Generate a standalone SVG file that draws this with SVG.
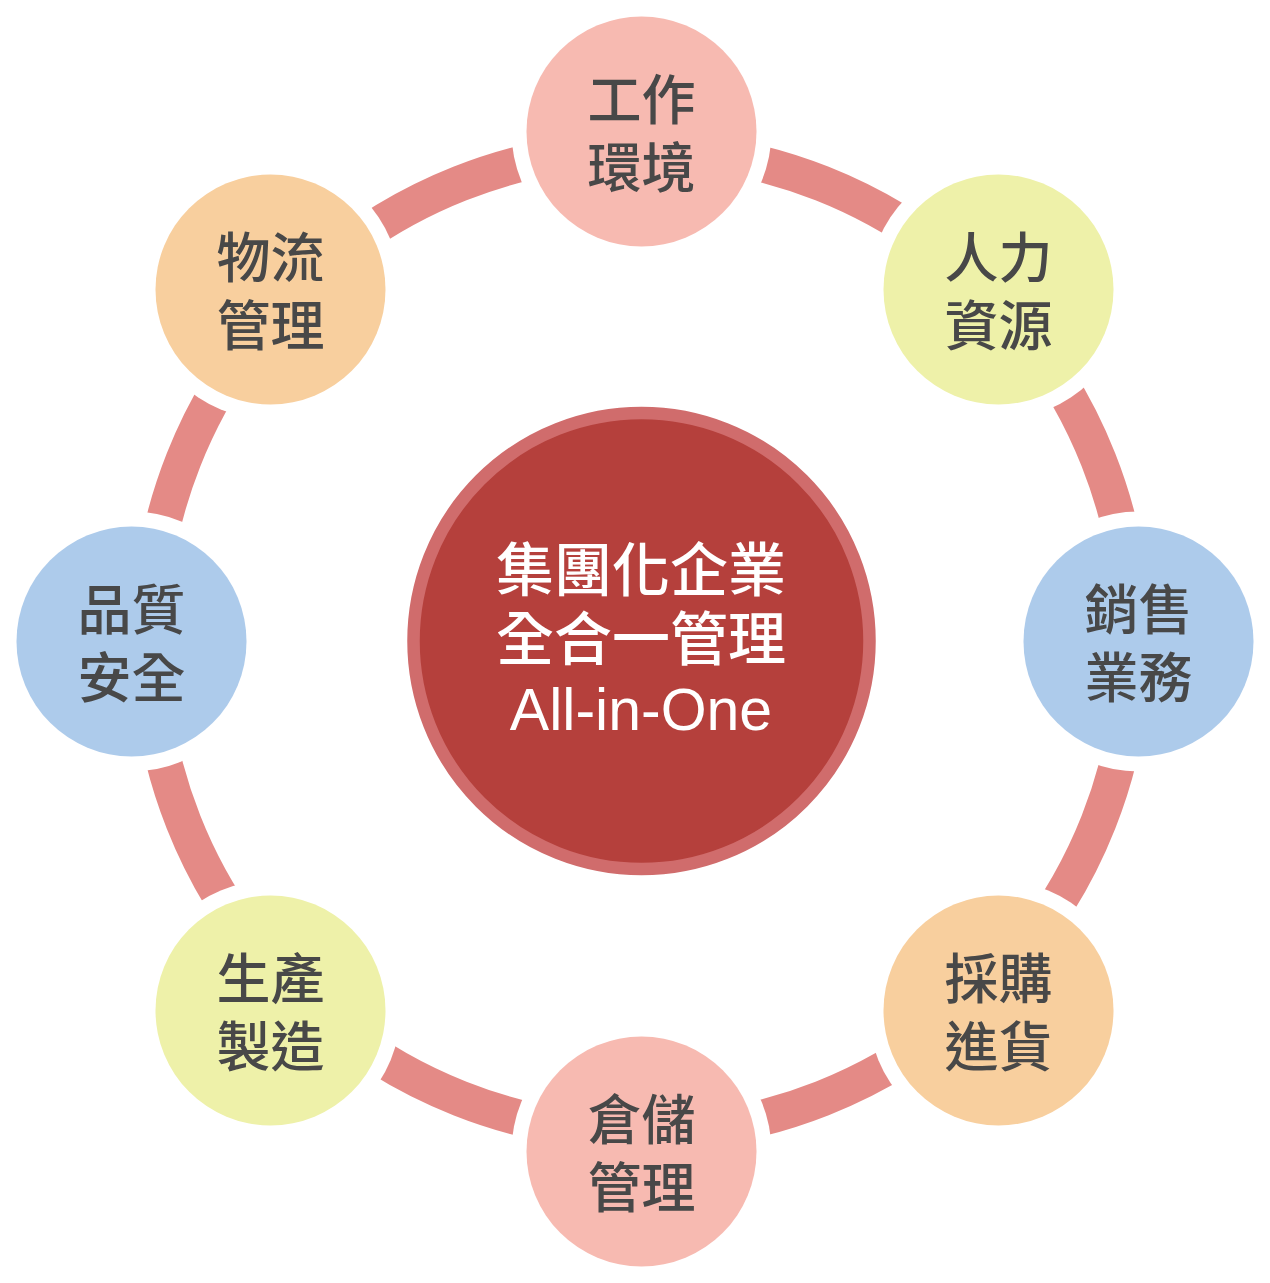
<svg xmlns="http://www.w3.org/2000/svg" width="1270" height="1283" viewBox="0 0 1270 1283">
<style>
.ring{fill:none;stroke:#E48A86;stroke-width:36}
.gap{fill:#FFFFFF}
.pink{fill:#F7BAB1}.yellow{fill:#EEF1A9}.blue{fill:#ADCBEB}.orange{fill:#F8CF9E}
.lbl{font-family:"Noto Sans CJK TC","Noto Sans CJK SC",sans-serif;font-weight:500;font-size:54px;fill:#484848;text-anchor:middle}
.ctr{font-family:"Noto Sans CJK TC","Noto Sans CJK SC",sans-serif;font-weight:500;font-size:58px;fill:#FFFFFF;text-anchor:middle}
.en{font-family:"Liberation Sans",Arial,sans-serif;font-size:59px;fill:#FFFFFF;text-anchor:middle}
</style>
<defs>
<circle id="gapc" r="130" class="gap"/>
</defs>
<rect width="1270" height="1283" fill="#FFFFFF"/>
<g id="connectors">
<circle class="ring" cx="641" cy="641" r="492"/>
</g>
<g id="center">
<circle cx="641.5" cy="641" r="228" fill="#B5403C" stroke="#D06C6C" stroke-width="12.5"/>
<text class="ctr" x="641" y="591">集團化企業</text>
<text class="ctr" x="641" y="660">全合一管理</text>
<text class="en" x="641" y="730">All-in-One</text>
</g>
<g id="node-work">
<use href="#gapc" x="641.5" y="131.5"/>
<circle class="pink" cx="641.5" cy="131.5" r="115"/>
<text class="lbl" x="641.5" y="120">工作</text>
<text class="lbl" x="641.5" y="188">環境</text>
</g>
<g id="node-hr">
<use href="#gapc" x="998.5" y="289.5"/>
<circle class="yellow" cx="998.5" cy="289.5" r="115"/>
<text class="lbl" x="998.5" y="278">人力</text>
<text class="lbl" x="998.5" y="346">資源</text>
</g>
<g id="node-sales">
<use href="#gapc" x="1138.5" y="641.5"/>
<circle class="blue" cx="1138.5" cy="641.5" r="115"/>
<text class="lbl" x="1138.5" y="630">銷售</text>
<text class="lbl" x="1138.5" y="698">業務</text>
</g>
<g id="node-purchase">
<use href="#gapc" x="998.5" y="1010.5"/>
<circle class="orange" cx="998.5" cy="1010.5" r="115"/>
<text class="lbl" x="998.5" y="999">採購</text>
<text class="lbl" x="998.5" y="1067">進貨</text>
</g>
<g id="node-warehouse">
<use href="#gapc" x="641.5" y="1151.5"/>
<circle class="pink" cx="641.5" cy="1151.5" r="115"/>
<text class="lbl" x="641.5" y="1140">倉儲</text>
<text class="lbl" x="641.5" y="1208">管理</text>
</g>
<g id="node-production">
<use href="#gapc" x="270.5" y="1010.5"/>
<circle class="yellow" cx="270.5" cy="1010.5" r="115"/>
<text class="lbl" x="270.5" y="999">生產</text>
<text class="lbl" x="270.5" y="1067">製造</text>
</g>
<g id="node-quality">
<use href="#gapc" x="131.5" y="641.5"/>
<circle class="blue" cx="131.5" cy="641.5" r="115"/>
<text class="lbl" x="131.5" y="630">品質</text>
<text class="lbl" x="131.5" y="698">安全</text>
</g>
<g id="node-logistics">
<use href="#gapc" x="270.5" y="289.5"/>
<circle class="orange" cx="270.5" cy="289.5" r="115"/>
<text class="lbl" x="270.5" y="278">物流</text>
<text class="lbl" x="270.5" y="346">管理</text>
</g>
</svg>
